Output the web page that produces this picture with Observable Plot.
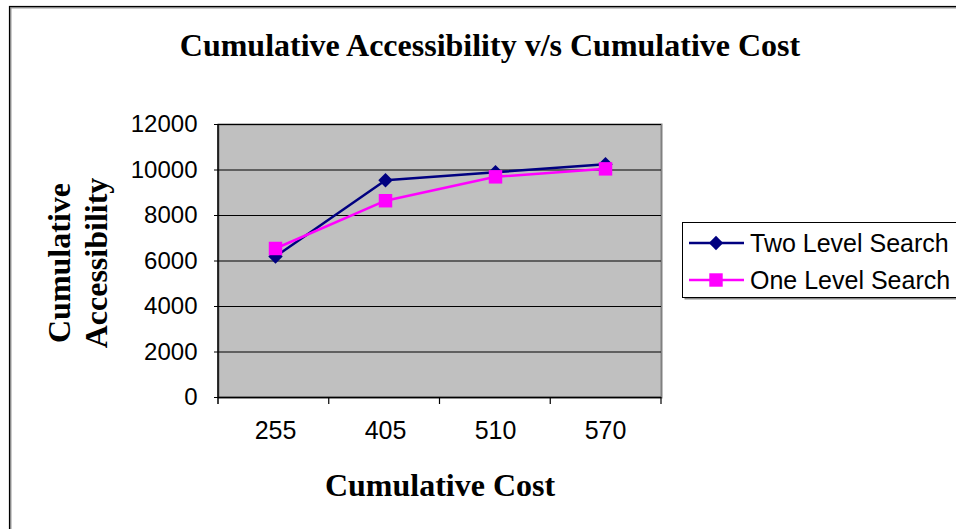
<!DOCTYPE html>
<html>
<head>
<meta charset="utf-8">
<script src="https://cdn.jsdelivr.net/npm/d3@7"></script>
<script src="https://cdn.jsdelivr.net/npm/@observablehq/plot@0.6"></script>
<style>
  html, body { margin: 0; padding: 0; background: white; overflow: hidden; }
  #chart svg { display: block; }
</style>
</head>
<body>
<div id="chart"></div>
<script>
// ---- data ----
const categories = ["255", "405", "510", "570"];
const twoLevel = [6200, 9550, 9900, 10250];
const oneLevel = [6550, 8650, 9700, 10050];
const yTicks = [0, 2000, 4000, 6000, 8000, 10000, 12000];
const seriesNames = ["Two Level Search", "One Level Search"];
const seriesColors = ["#000080", "#FF00FF"];
const titleText = "Cumulative Accessibility v/s Cumulative Cost";
const yTitleLines = ["Cumulative", "Accessibility"];
const xTitleText = "Cumulative Cost";

const twoData = categories.map((c, i) => ({cost: c, value: twoLevel[i], series: seriesNames[0]}));
const oneData = categories.map((c, i) => ({cost: c, value: oneLevel[i], series: seriesNames[1]}));

const W = 956, H = 529;
const mL = 218, mR = 295, mT = 124, mB = 132;

const chart = Plot.plot({
  width: W,
  height: H,
  marginLeft: mL,
  marginRight: mR,
  marginTop: mT,
  marginBottom: mB,
  style: {background: "transparent", color: "black", fontFamily: "'Liberation Sans', Arial, sans-serif"},
  x: {type: "point", domain: categories, padding: 0.5, label: null},
  y: {domain: [0, 12000], label: null},
  marks: [
    Plot.frame({fill: "#C0C0C0", stroke: "#808080", strokeWidth: 2}),
    Plot.gridY(yTicks, {stroke: "black", strokeOpacity: 1, strokeWidth: 1}),
    Plot.ruleY([0], {stroke: "black", strokeWidth: 1.5}),
    Plot.axisY({ticks: yTicks, tickSize: 4, tickPadding: 17, fontSize: 24, tickFormat: d => String(d), label: null}),
    Plot.axisX({tickSize: 0, tickPadding: 24, fontSize: 25, label: null}),
    Plot.line(twoData, {x: "cost", y: "value", stroke: seriesColors[0], strokeWidth: 2.5}),
    Plot.dot(twoData, {x: "cost", y: "value", symbol: "diamond2", fill: seriesColors[0], stroke: null, r: 6.5}),
    Plot.line(oneData, {x: "cost", y: "value", stroke: seriesColors[1], strokeWidth: 2.5}),
    Plot.dot(oneData, {x: "cost", y: "value", symbol: "square", fill: seriesColors[1], stroke: null, r: 7.6})
  ]
});

const svg = d3.select(chart);

// outer chart-area border (extends past the window edges)
svg.insert("rect", ":first-child")
  .attr("x", 10.5).attr("y", 7.5).attr("width", 1000).attr("height", 600)
  .attr("fill", "none").attr("stroke", "#999").attr("stroke-width", 2);
svg.insert("rect", ":first-child")
  .attr("x", 0).attr("y", 0).attr("width", W).attr("height", H).attr("fill", "white");
svg.append("rect")
  .attr("x", 9.5).attr("y", 6.5).attr("width", 1000).attr("height", 600)
  .attr("fill", "none").attr("stroke", "black").attr("stroke-width", 1.2);

// left axis line and category boundary ticks
const x0 = mL, x1 = W - mR, yb = H - mB;
svg.append("line").attr("x1", x0).attr("x2", x0).attr("y1", mT).attr("y2", yb + 7)
  .attr("stroke", "black").attr("stroke-width", 1.5);
const step = (x1 - x0) / categories.length;
for (let i = 1; i <= categories.length; i++) {
  svg.append("line").attr("x1", x0 + i * step).attr("x2", x0 + i * step)
    .attr("y1", yb).attr("y2", yb + 7).attr("stroke", "black").attr("stroke-width", 1.2);
}

// titles
const serif = "'Liberation Serif', 'Times New Roman', serif";
svg.append("text").attr("x", 490).attr("y", 56).attr("text-anchor", "middle")
  .attr("font-family", serif).attr("font-weight", "bold").attr("font-size", 32)
  .attr("fill", "black").text(titleText);
svg.append("text").attr("x", 440).attr("y", 496).attr("text-anchor", "middle")
  .attr("font-family", serif).attr("font-weight", "bold").attr("font-size", 32)
  .attr("fill", "black").text(xTitleText);
yTitleLines.forEach((t, i) => {
  svg.append("text")
    .attr("transform", `translate(${70 + i * 37},263) rotate(-90)`)
    .attr("text-anchor", "middle")
    .attr("font-family", serif).attr("font-weight", "bold").attr("font-size", 32)
    .attr("fill", "black").text(t);
});

// legend
const lg = svg.append("g");
lg.append("rect").attr("x", 684.5).attr("y", 224.5).attr("width", 300).attr("height", 75)
  .attr("fill", "#888").attr("stroke", "none");
lg.append("rect").attr("x", 682.5).attr("y", 222.5).attr("width", 300).attr("height", 75)
  .attr("fill", "white").attr("stroke", "black").attr("stroke-width", 1);
const symbols = [d3.symbolDiamond2, d3.symbolSquare];
const sizes = [130, 180];
seriesNames.forEach((name, i) => {
  const cy = 243 + i * 37;
  lg.append("line").attr("x1", 689).attr("x2", 744).attr("y1", cy).attr("y2", cy)
    .attr("stroke", seriesColors[i]).attr("stroke-width", 2.5);
  lg.append("path").attr("d", d3.symbol(symbols[i], sizes[i])())
    .attr("transform", `translate(716,${cy})`).attr("fill", seriesColors[i]);
  lg.append("text").attr("x", 750).attr("y", cy).attr("dy", "0.36em")
    .attr("text-anchor", "start")
    .attr("font-family", "'Liberation Sans', Arial, sans-serif").attr("font-size", 25)
    .attr("fill", "black").text(name);
});

document.getElementById("chart").appendChild(chart);
</script>
</body>
</html>
